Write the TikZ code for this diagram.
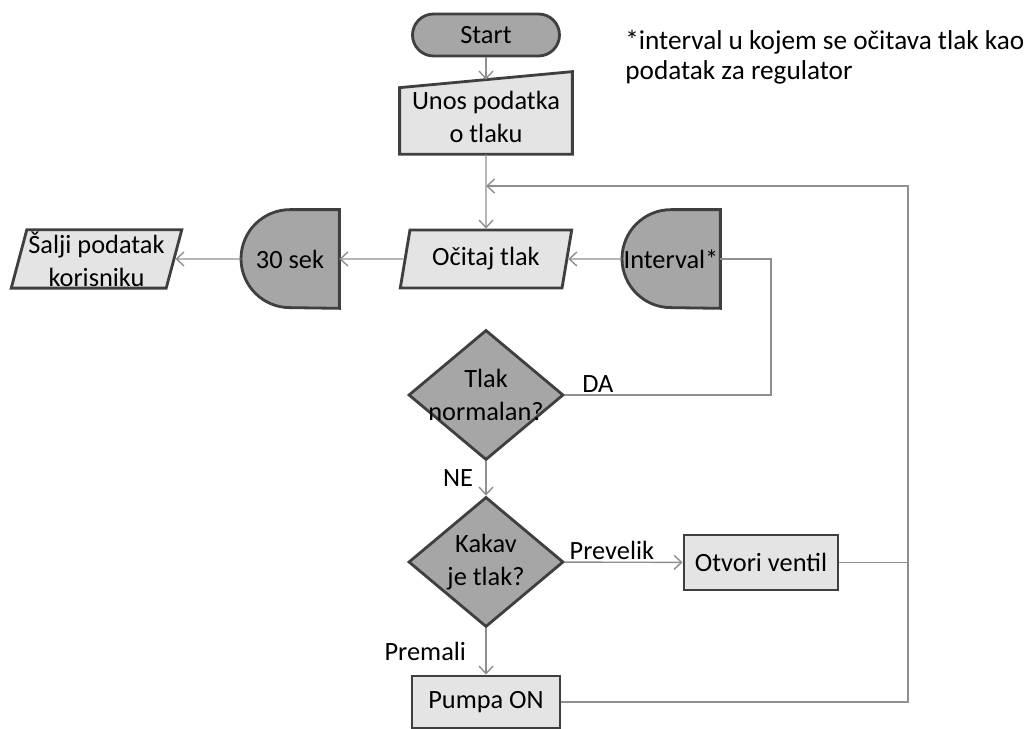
\documentclass[tikz,border=0pt]{standalone}
\usepackage{fontspec}
\setmainfont{Carlito}
\usetikzlibrary{arrows.meta,positioning,shapes.geometric,calc}
\pgfdeclarelayer{background}
\pgfsetlayers{background,main}
\definecolor{darkFill}{HTML}{A6A6A6}
\definecolor{lightFill}{HTML}{E4E4E4}
\definecolor{borderGray}{HTML}{3F3F3F}
\definecolor{lineGray}{HTML}{8F8F8F}

\begin{document}
\begin{tikzpicture}[
  font=\fontsize{15}{18.8}\selectfont,
  base/.style={draw=borderGray, line width=1.6pt, align=center},
  terminal/.style={base, fill=darkFill, rounded corners=0.42cm, minimum width=2.94cm, minimum height=0.84cm},
  io/.style={base, fill=lightFill, trapezium, trapezium left angle=75, trapezium right angle=105, trapezium stretches=true, minimum width=3.44cm, minimum height=1.16cm, inner sep=1pt},
  manualIn/.style={align=center, minimum width=3.44cm, minimum height=1.48cm},
  delayBox/.style={align=center, inner sep=0pt, minimum size=1.96cm},
  process/.style={base, fill=lightFill, minimum height=1.1cm},
  decision/.style={base, fill=darkFill, diamond, aspect=1.2, inner sep=-8pt, minimum width=3.1cm, minimum height=2.6cm},
  arrow/.style={-{Straight Barb[length=1.5mm,width=2.8mm]}, draw=lineGray, line width=0.8pt},
  link/.style={draw=lineGray, line width=0.8pt},
  edgeLabel/.style={inner sep=1pt}
]
\useasboundingbox (0,0) rectangle (20.54,14.58);

\node[terminal] (start) at (9.72,13.88) {Start};
\node[manualIn] (unos) at (9.72,12.24) {Unos podatka\\o tlaku};
\node[io] (ocitaj) at (9.72,9.40) {Očitaj tlak};
\node[delayBox] (interval) at (13.42,9.40) {Interval*};
\node[delayBox] (sek) at (5.80,9.40) {30 sek};
\node[io] (salji) at (1.93,9.40) {Šalji podatak\\korisniku};
\node[decision] (tlak) at (9.72,6.68) {Tlak\\normalan?};
\node[decision] (kakav) at (9.72,3.34) {Kakav\\je tlak?};
\node[process, minimum width=3.08cm] (otvori) at (15.22,3.33) {Otvori ventil};
\node[process, minimum width=2.96cm, minimum height=1.04cm] (pumpa) at (9.72,0.54) {Pumpa ON};
\node[anchor=west, align=left, inner sep=0pt, font=\fontsize{15.5}{17}\selectfont] (note) at (12.50,13.44) {*interval u kojem se očitava tlak kao\\podatak za regulator};

\begin{pgfonlayer}{background}
  \draw[base, fill=lightFill] (unos.south west) -- (unos.south east) -- ($(unos.north east)+(0,0.16)$) -- ($(unos.north west)+(0,-0.16)$) -- cycle;
  \foreach \n in {sek,interval}
    \draw[base, fill=darkFill] (\n.north east) -- (\n.north) arc[start angle=90, end angle=270, radius=0.98cm] -- (\n.south east) -- cycle;
\end{pgfonlayer}

\coordinate (join) at (9.72,10.86);
\coordinate (loopR) at (18.16,10.86);
\coordinate (loopDA) at (15.42,9.40);

\draw[arrow] (start) -- (unos);
\draw[arrow] (unos) -- (ocitaj);
\draw[arrow] (interval) -- (ocitaj);
\draw[arrow] (ocitaj) -- (sek);
\draw[arrow] (sek) -- (salji);
\draw[link] (tlak.east) -- node[above, pos=0.16, edgeLabel]{DA} (tlak.east -| loopDA) |- (interval.east);
\draw[arrow] (tlak) -- node[left=6pt, edgeLabel]{NE} (kakav);
\draw[arrow] (kakav) -- node[above, pos=0.4, edgeLabel]{Prevelik} (otvori);
\draw[arrow] (kakav) -- node[left=10pt, edgeLabel]{Premali} (pumpa);
\draw[link] (otvori.east) -- (otvori.east -| loopR);
\draw[arrow] (pumpa.east) -| (loopR) -- (join);
\end{tikzpicture}
\end{document}
